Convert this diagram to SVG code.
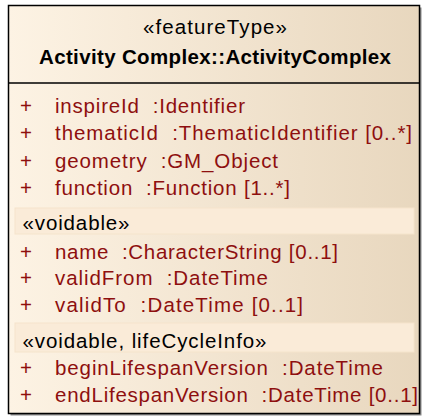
<svg xmlns="http://www.w3.org/2000/svg" width="422" height="416" viewBox="0 0 422 416">
<defs>
<linearGradient id="g" x1="0" y1="0" x2="1" y2="0">
<stop offset="0" stop-color="#FDF3E4"/>
<stop offset="1" stop-color="#E8D7BE"/>
</linearGradient>
</defs>
<style>
text{white-space:pre}
.t{font-family:"Liberation Sans",Arial,sans-serif;font-size:20.5px;fill:#000}
.b{font-weight:bold}
.a{font-family:"Liberation Sans",Arial,sans-serif;font-size:20.5px;fill:#8E0F0F}
.band{fill:#FAEBD8;stroke:#F5E4CC;stroke-width:1}
</style>
<rect x="0" y="0" width="422" height="416" fill="#fff"/>
<g id="ActivityComplex">
<rect x="10.5" y="7.5" width="411" height="408" fill="#8a8a8a"/>
<rect x="8.5" y="5.5" width="411" height="408" fill="url(#g)" stroke="#000" stroke-width="1.5"/>
<line x1="8.5" y1="83" x2="419.5" y2="83" stroke="#000" stroke-width="1.5"/>
<text class="t" x="215" y="34" text-anchor="middle" textLength="144" lengthAdjust="spacing">«featureType»</text>
<text class="t b" x="215" y="64" text-anchor="middle" textLength="352" lengthAdjust="spacing">Activity Complex::ActivityComplex</text>
<g class="a" xml:space="preserve">
<text x="20" y="113">+</text><text x="55" y="113" textLength="190" lengthAdjust="spacing">inspireId  :Identifier</text>
<text x="20" y="140">+</text><text x="55" y="140" textLength="357" lengthAdjust="spacing">thematicId  :ThematicIdentifier [0..*]</text>
<text x="20" y="168">+</text><text x="55" y="168" textLength="223" lengthAdjust="spacing">geometry  :GM_Object</text>
<text x="20" y="195">+</text><text x="55" y="195" textLength="235" lengthAdjust="spacing">function  :Function [1..*]</text>
</g>
<rect class="band" x="15" y="208" width="399" height="26"/>
<text class="t" x="22.5" y="230" textLength="107" lengthAdjust="spacing">«voidable»</text>
<g class="a" xml:space="preserve">
<text x="20" y="259">+</text><text x="55" y="259" textLength="283" lengthAdjust="spacing">name  :CharacterString [0..1]</text>
<text x="20" y="285">+</text><text x="55" y="285" textLength="213" lengthAdjust="spacing">validFrom  :DateTime</text>
<text x="20" y="312">+</text><text x="55" y="312" textLength="248" lengthAdjust="spacing">validTo  :DateTime [0..1]</text>
</g>
<rect class="band" x="15" y="323" width="399" height="29"/>
<text class="t" x="22.5" y="348" textLength="244" lengthAdjust="spacing">«voidable, lifeCycleInfo»</text>
<g class="a" xml:space="preserve">
<text x="20" y="375">+</text><text x="55" y="375" textLength="328" lengthAdjust="spacing">beginLifespanVersion  :DateTime</text>
<text x="20" y="402">+</text><text x="55" y="402" textLength="363" lengthAdjust="spacing">endLifespanVersion  :DateTime [0..1]</text>
</g>
</g>
<g id="connectors"/>
</svg>
